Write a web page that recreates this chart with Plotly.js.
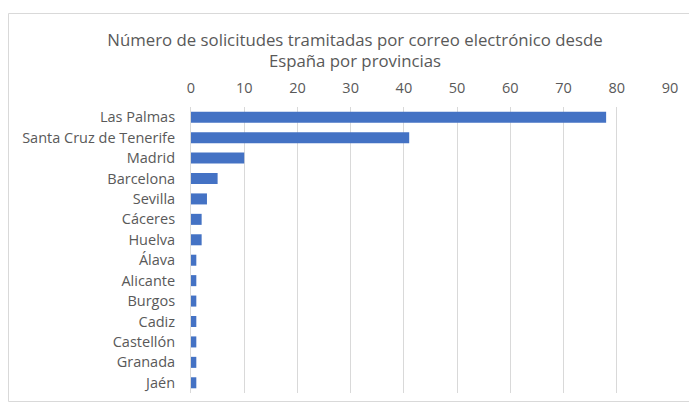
<!DOCTYPE html>
<html><head><meta charset="utf-8">
<script src="https://cdn.plot.ly/plotly-3.0.1.min.js"></script>
<style>body{margin:0;background:#fff}#c{width:689px;height:403px}</style>
</head><body><div id="c"></div>
<script>
const provincias = ["Las Palmas","Santa Cruz de Tenerife","Madrid","Barcelona","Sevilla","Cáceres","Huelva","Álava","Alicante","Burgos","Cadiz","Castellón","Granada","Jaén"];
const solicitudes = [78,41,10,5,3,2,2,1,1,1,1,1,1,1];
const tickValues = [0,10,20,30,40,50,60,70,80,90];

const W = 689, H = 403;
const m = {l:191, r:19, t:107, b:10};
const px = (x)=> (x - m.l)/(W - m.l - m.r);
const py = (y)=> 1 - (y - m.t)/(H - m.t - m.b);

Plotly.newPlot('c', [{
  type:'bar', orientation:'h',
  x: solicitudes, y: provincias,
  marker:{color:'#4472C4'},
  hoverinfo:'x+y'
}], {
  width:W, height:H,
  margin:m,
  paper_bgcolor:'#fff', plot_bgcolor:'#fff',
  bargap:0.46,
  font:{family:'Open Sans, sans-serif', color:'#595959'},
  title:{text:'Número de solicitudes tramitadas por correo electrónico desde<br>España por provincias',
    font:{size:16.8, color:'#595959', family:'Open Sans, sans-serif'},
    x:355/689, xanchor:'center', xref:'container', y:1-45.5/403, yanchor:'middle', yref:'container'},
  xaxis:{side:'top', range:[0,90], tickvals:tickValues, showgrid:true, gridcolor:'#D9D9D9', gridwidth:1,
    zeroline:false, showline:false, ticks:'', ticklabelstandoff:10, tickfont:{size:14.5, color:'#595959'}, fixedrange:true},
  yaxis:{autorange:'reversed', showgrid:false, zeroline:false, showline:true, linecolor:'#D9D9D9', linewidth:1,
    ticks:'', ticklabelstandoff:12, tickfont:{size:14.5, color:'#595959'}, fixedrange:true},
  shapes:[{type:'rect', xref:'paper', yref:'paper', x0:px(8.5), x1:px(700), y0:py(13.5), y1:py(401.5),
    line:{color:'#D9D9D9', width:1}, fillcolor:'rgba(0,0,0,0)', layer:'below'}]
}, {displayModeBar:false, staticPlot:true});
</script></body></html>
